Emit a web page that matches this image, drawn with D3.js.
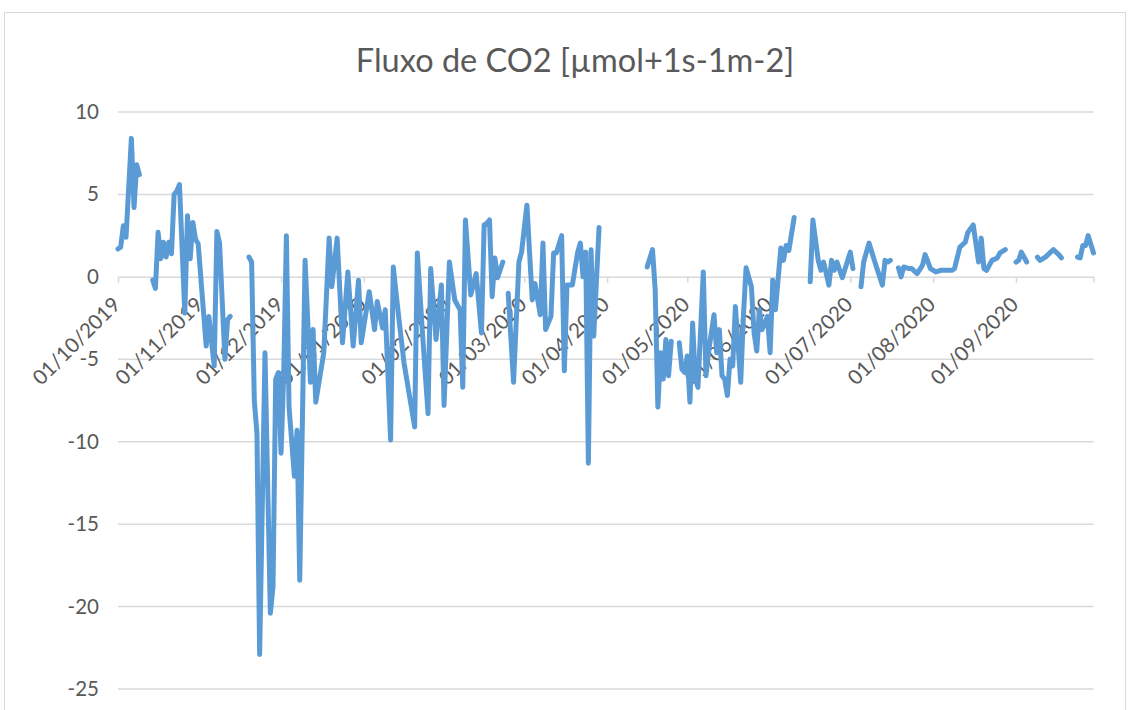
<!DOCTYPE html>
<html>
<head>
<meta charset="utf-8">
<script src="https://cdn.jsdelivr.net/npm/d3@7"></script>
<style>
  body { margin: 0; background: #fff; }
  text { font-family: Lato, "Open Sans", sans-serif; fill: #595959; }
</style>
</head>
<body>
<script>
var title = 'Fluxo de CO2 [µmol+1s-1m-2]';
var startDate = '2019-10-01';
var endDate = '2020-09-30';
var yTicks = [10, 5, 0, -5, -10, -15, -20, -25];

// days after 01/10/2019; null flux = gap in the record
var dayOffsets = [0, 1, 2, 3, 5, 6, 7, 8, 10,
  13, 14, 15, 16, 17, 18, 19, 20, 21, 22, 23, 25, 26, 27, 28, 29, 30, 33, 34, 36, 37, 38, 40, 41, 42, 45,
  49, 50, 51, 52, 53, 55, 57, 58, 59, 60, 61, 62, 63, 64, 66, 67, 68, 70, 72, 73, 74, 77, 79, 80, 82, 84,
  86, 88, 90, 91, 94, 96, 97, 99, 100, 102, 103, 105, 107, 111, 112, 114, 116, 117, 119, 121, 122, 124,
  126, 128, 129, 130, 132, 134, 136, 137, 138, 139, 140, 141, 142, 144, 145,
  146, 148, 150, 151, 153, 155, 156, 158, 159, 160, 162, 163, 164, 166, 167, 168, 170, 172, 173, 174,
  175, 176, 177, 178, 180, 190,
  198, 200, 201, 202, 203, 204, 205, 206, 207, 208,
  210, 211, 212, 213, 214, 215, 216, 217, 219, 220, 221, 223, 224, 225, 226, 227, 228, 229, 230, 231,
  233, 234, 235, 237, 238, 239, 240, 241, 243, 244, 245, 246, 248, 249, 250, 251, 253, 256,
  259, 260, 262, 263, 264, 266, 267, 268, 269, 271, 274, 275, 276,
  278, 279, 281, 283, 284, 286, 287, 288, 289, 290,
  292, 293, 294, 296, 297, 299, 301, 302, 304, 306, 308, 312, 313, 315, 317, 318, 320, 322, 323, 324,
  325, 327, 329, 330, 332, 334,
  336, 337, 338, 340, 342,
  344, 345, 347, 350, 352, 353, 356,
  359, 360, 361, 362, 363, 365];

var flux = [1.7, 1.8, 3.1, 2.4, 8.4, 4.2, 6.8, 6.2, null,
  -0.2, -0.7, 2.7, 1.1, 2.1, 1.2, 2.1, 1.4, 5.0, 5.2, 5.6, -2.2, 3.7, 1.1, 3.3, 2.3, 2.0, -4.2, -2.4, -5.4, 2.75, 2.05, -5.0, -2.6, -2.4, null,
  1.2, 0.9, -7.5, -9.5, -22.9, -4.6, -20.4, -18.8, -6.2, -5.8, -10.7, -6.0, 2.5, -7.9, -12.1, -9.3, -18.4, 1.0, -6.4, -3.2, -7.6, -4.6, 2.35, -0.6, 2.35, -4.0,
  0.3, -4.2, -0.2, -4.0, -0.9, -3.2, -1.5, -3.1, -2.0, -9.9, 0.6, -2.4, -5.2, -9.1, 1.45, -3.6, -8.3, 0.5, -3.8, -0.5, -7.8, 0.9,
  -1.4, -2.0, -6.7, 3.45, -1.1, 0.2, -3.4, 3.15, 3.25, 3.45, -1.2, 1.15, -0.05, 0.9, null,
  -1.0, -6.4, 0.9, 1.5, 4.35, -1.4, -0.4, -2.3, 2.05, -3.2, -2.4, 1.45, 1.45, 2.5, -5.7, -0.5, -0.5, 1.5, 2.05, 0,
  1.5, -11.3, 1.65, -3.6, 3.0, null,
  0.6, 1.65, -0.8, -7.9, -4.6, -6.2, -3.8, -6.0, -3.9, null,
  -4.0, -5.6, -5.8, -4.8, -7.6, -2.8, -6.2, -6.7, 0.3, -6.0, -4.5, -2.3, -4.6, -3.2, -6.0, -6.2, -7.2, -5.0, -5.4, -1.8,
  -6.4, -2.4, 0.55, -0.6, -3.4, -4.5, -2.0, -3.2, -2.4, -4.6, -0.2, -2.0, 1.75, 1.0, 1.9, 1.6, 3.6, null,
  -0.3, 3.45, 1.0, 0.4, 0.9, -0.5, 1.0, 0.4, 0.9, -0.05, 1.5, 0.5, null,
  -0.6, 0.9, 2.05, 1.0, 0.5, -0.5, 1.0, 0.9, 1.0, null,
  0.55, 0.0, 0.6, 0.5, 0.5, 0.2, 0.7, 1.35, 0.5, 0.3, 0.4, 0.4, 0.5, 1.8, 2.1, 2.7, 3.15, 0.9, 2.35, 0.5,
  0.4, 1.0, 1.15, 1.45, 1.65, null,
  0.9, 1.0, 1.5, 0.9, null,
  1.2, 1.0, 1.2, 1.65, 1.35, 1.15, null,
  1.2, 1.15, 1.9, 1.9, 2.5, 1.45];

var width = 1131, height = 710;
var parseDate = d3.timeParse('%Y-%m-%d');
var t0 = parseDate(startDate), t1 = parseDate(endDate);

var points = dayOffsets.map(function(d, i) {
  return {date: d3.timeDay.offset(t0, d), v: flux[i]};
});

var svg = d3.select('body').append('svg')
  .attr('width', width)
  .attr('height', height);

// chart frame
svg.append('rect')
  .attr('x', 4.5).attr('y', 12.5)
  .attr('width', 1121).attr('height', 720)
  .attr('fill', 'none')
  .attr('stroke', '#d9d9d9')
  .attr('stroke-width', 1);

var x = d3.scaleTime().domain([t0, t1]).range([118, 1093.5]);
var y = d3.scaleLinear().domain([-25, 10]).range([689, 112]);

svg.append('text')
  .attr('x', 575).attr('y', 72)
  .attr('text-anchor', 'middle')
  .style('font-size', '32.5px')
  .text(title);

// gridlines
svg.append('g').selectAll('line')
  .data(yTicks.filter(function(d){ return d !== 0; }))
  .enter().append('line')
  .attr('x1', 118).attr('x2', 1093.5)
  .attr('y1', function(d){ return y(d); })
  .attr('y2', function(d){ return y(d); })
  .attr('stroke', '#d9d9d9')
  .attr('stroke-width', 1.5);

var yAxis = d3.axisLeft(y).tickValues(yTicks).tickSize(0).tickPadding(0)
  .tickFormat(function(d){ return String(d); });
var gy = svg.append('g').attr('transform', 'translate(99,0)').call(yAxis);
gy.select('.domain').remove();
gy.selectAll('text').style('font-size', '20.5px').attr('fill', '#595959');

var monthTicks = d3.timeMonth.range(t0, d3.timeDay.offset(t1, 1)).concat([t1]);
var fmt = d3.timeFormat('%d/%m/%Y');
var xAxis = d3.axisBottom(x)
  .tickValues(monthTicks)
  .tickSize(6)
  .tickSizeOuter(0)
  .tickFormat(function(d){ return +d === +t1 ? '' : fmt(d); });

var gx = svg.append('g').attr('transform', 'translate(0,' + y(0) + ')').call(xAxis);
gx.select('.domain').attr('stroke', '#d9d9d9').attr('stroke-width', 1.5);
gx.selectAll('.tick line').attr('stroke', '#d9d9d9').attr('stroke-width', 1.5);
gx.selectAll('text')
  .style('font-size', '20.5px')
  .attr('fill', '#595959')
  .attr('x', 0).attr('y', 0).attr('dy', '0.35em')
  .attr('transform', 'translate(-2,24) rotate(-45)')
  .style('text-anchor', 'end');

var line = d3.line()
  .defined(function(d){ return d.v !== null; })
  .x(function(d){ return x(d.date); })
  .y(function(d){ return y(d.v); });

svg.append('path')
  .datum(points)
  .attr('fill', 'none')
  .attr('stroke', '#5b9bd5')
  .attr('stroke-width', 5)
  .attr('stroke-linejoin', 'round')
  .attr('stroke-linecap', 'round')
  .attr('d', line);
</script>
</body>
</html>
